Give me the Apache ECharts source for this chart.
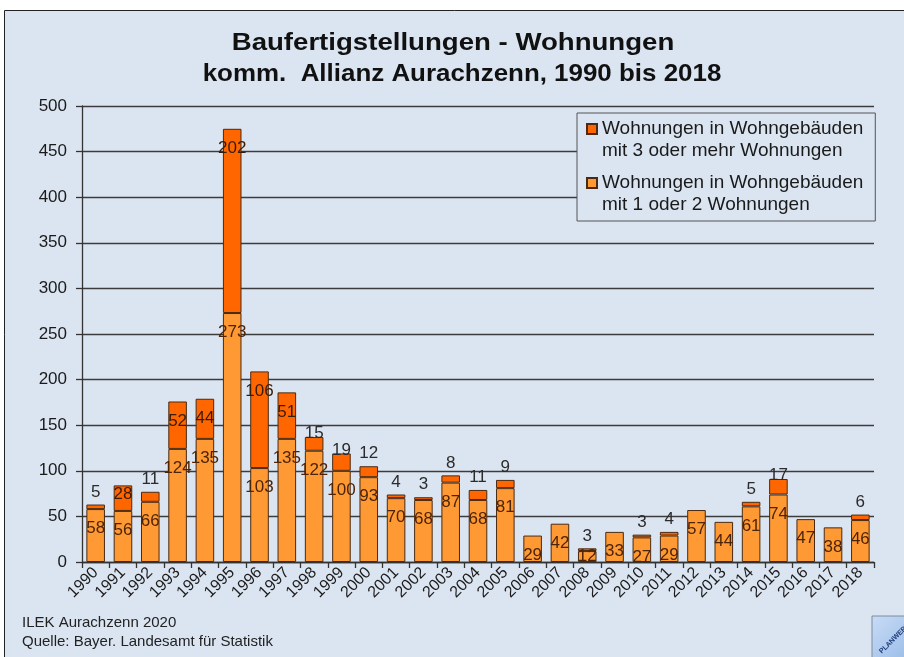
<!DOCTYPE html>
<html>
<head>
<meta charset="utf-8">
<script src="https://cdn.jsdelivr.net/npm/echarts@6/dist/echarts.min.js"></script>
<style>
  html, body { margin: 0; padding: 0; background: #fff; }
  #main { width: 904px; height: 657px; }
</style>
</head>
<body>
<div id="main"></div>
<script>
// Jahre
var years = ['1990', '1991', '1992', '1993', '1994', '1995', '1996', '1997', '1998', '1999',
  '2000', '2001', '2002', '2003', '2004', '2005', '2006', '2007', '2008', '2009',
  '2010', '2011', '2012', '2013', '2014', '2015', '2016', '2017', '2018'];
// Wohnungen in Wohngebäuden mit 1 oder 2 Wohnungen
var small = [58, 56, 66, 124, 135, 273, 103, 135, 122, 100,
  93, 70, 68, 87, 68, 81, 29, 42, 12, 33,
  27, 29, 57, 44, 61, 74, 47, 38, 46];
// Wohnungen in Wohngebäuden mit 3 oder mehr Wohnungen (null = keine)
var large = [5, 28, 11, 52, 44, 202, 106, 51, 15, 19,
  12, 4, 3, 8, 11, 9, null, null, 3, null,
  3, 4, null, null, 5, 17, null, null, 6];
var yTicks = [0, 50, 100, 150, 200, 250, 300, 350, 400, 450, 500];

var nameSmall = 'Wohnungen in Wohngebäuden\nmit 1 oder 2 Wohnungen';
var nameLarge = 'Wohnungen in Wohngebäuden\nmit 3 oder mehr Wohnungen';

var font = '"Liberation Sans", Arial, sans-serif';

// Beschriftung wie im Excel-Original ungefähr nachbauen
function smallItem(v) {
  return {
    value: v,
    label: v < 16 ? { position: 'inside' } : { position: 'insideTop', distance: 11 }
  };
}
function largeItem(v) {
  if (v == null) return { value: null };
  var lab;
  if (v >= 40) lab = { position: 'insideTop', distance: 11, color: '#3a1c06' };
  else if (v >= 20) lab = { position: 'insideTop', distance: 0, color: '#3a1c06' };
  else if (v >= 13) lab = { position: 'top', distance: -5, color: '#2b2b2b' };
  else lab = { position: 'top', distance: 4, color: '#2b2b2b' };
  return { value: v, label: lab };
}

// Quadrat oben, damit es auf Höhe der ersten Textzeile sitzt
var legendIcon = 'path://M0,0H10V10H0ZM0,32';

var myChart = echarts.init(document.getElementById('main'));
var option = {
  backgroundColor: '#ffffff',
  animation: false,
  textStyle: { fontFamily: font },
  graphic: [
    {
      type: 'rect', z: -10, silent: true,
      shape: { x: 4.5, y: 10.5, width: 920, height: 660 },
      style: { fill: '#dbe5f1', stroke: '#222', lineWidth: 1 }
    },
    {
      type: 'text', x: 453, y: 43, scaleX: 1.15,
      style: {
        text: 'Baufertigstellungen - Wohnungen', font: 'bold 24px ' + font, fill: '#111',
        align: 'center', verticalAlign: 'middle'
      }
    },
    {
      type: 'text', x: 462, y: 74, scaleX: 1.08,
      style: {
        text: 'komm.  Allianz Aurachzenn, 1990 bis 2018', font: 'bold 24px ' + font, fill: '#111',
        align: 'center', verticalAlign: 'middle'
      }
    },
    {
      type: 'text', x: 22, y: 623,
      style: { text: 'ILEK Aurachzenn 2020', font: '15px ' + font, fill: '#222', verticalAlign: 'middle' }
    },
    {
      type: 'text', x: 22, y: 642,
      style: { text: 'Quelle: Bayer. Landesamt für Statistik', font: '15px ' + font, fill: '#222', verticalAlign: 'middle' }
    },
    {
      type: 'group', x: 872, y: 616,
      children: [
        {
          type: 'rect', shape: { x: 0, y: 0, width: 50, height: 50 },
          style: {
            stroke: '#7f8c99', lineWidth: 1,
            fill: new echarts.graphic.LinearGradient(0, 0, 1, 1, [
              { offset: 0, color: '#c9dcf5' }, { offset: 1, color: '#8fb4e6' }
            ])
          }
        },
        {
          type: 'text', x: 6, y: 34, rotation: Math.PI / 4,
          style: { text: 'PLANWERK', font: 'bold 7px ' + font, fill: '#1f3c7a' }
        }
      ]
    }
  ],
  legend: {
    orient: 'vertical',
    left: 577,
    top: 113,
    padding: [5, 12, 5, 9],
    itemGap: 10,
    itemWidth: 10,
    itemHeight: 32,
    icon: legendIcon,
    backgroundColor: '#dbe5f1',
    borderColor: '#555',
    borderWidth: 1,
    borderRadius: 0,
    data: [nameLarge, nameSmall],
    textStyle: { fontSize: 19, color: '#1a1a1a', lineHeight: 22, fontFamily: font }
  },
  grid: { left: 82, right: 30, top: 106, bottom: 95 },
  xAxis: {
    type: 'category',
    data: years,
    axisLine: { lineStyle: { color: '#333', width: 1.3 } },
    axisTick: { show: true, length: 6, lineStyle: { color: '#333', width: 1.3 } },
    axisLabel: { rotate: 45, fontSize: 16, color: '#1a1a1a', margin: 8, interval: 0 }
  },
  yAxis: {
    type: 'value',
    min: yTicks[0],
    max: yTicks[yTicks.length - 1],
    interval: 50,
    axisLine: { show: true, lineStyle: { color: '#333', width: 1.3 } },
    axisTick: { show: true, inside: false, length: 6, lineStyle: { color: '#333', width: 1.3 } },
    axisLabel: { fontSize: 17, color: '#1a1a1a', margin: 15 },
    splitLine: { lineStyle: { color: '#3c3c3c', width: 1.3 } }
  },
  series: [
    {
      name: nameSmall,
      type: 'bar',
      stack: 'w',
      barWidth: '68%',
      data: small.map(smallItem),
      itemStyle: { color: '#ff9933', borderColor: '#4a2a12', borderWidth: 1 },
      label: { show: true, fontSize: 17, color: '#4d2408', fontFamily: font }
    },
    {
      name: nameLarge,
      type: 'bar',
      stack: 'w',
      barWidth: '68%',
      data: large.map(largeItem),
      itemStyle: { color: '#ff6600', borderColor: '#4a2a12', borderWidth: 1 },
      label: { show: true, fontSize: 17, fontFamily: font }
    }
  ]
};
myChart.setOption(option);
</script>
</body>
</html>
